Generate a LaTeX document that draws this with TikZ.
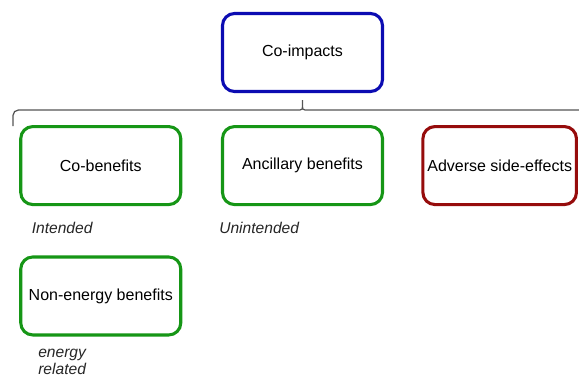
\documentclass[tikz,border=0pt]{standalone}
\usepackage{fontspec}
\setmainfont{Liberation Sans}
\usepackage{tikz}
\usetikzlibrary{positioning,calc}
\definecolor{impblue}{RGB}{12,12,178}
\definecolor{benegreen}{RGB}{22,150,22}
\definecolor{adversered}{RGB}{150,12,12}
\definecolor{bracegray}{RGB}{85,85,85}
\tikzset{
  impbox/.style={draw=impblue, line width=2.3pt, rounded corners=9pt, fill=white,
                 minimum width=120pt, minimum height=58.5pt,
                 font=\fontsize{12}{14}\selectfont, align=center},
  benebox/.style={impbox, draw=benegreen},
  advbox/.style={impbox, draw=adversered, minimum width=115pt},
  tagtext/.style={font=\fontsize{11.7}{12.8}\selectfont\itshape, text=black!85, inner sep=0pt},
  bracel/.style={draw=bracegray, line width=0.95pt, rounded corners=4pt}
}

\begin{document}
\begin{tikzpicture}[x=0.75pt, y=0.75pt, node distance=24pt and 29pt]
  \useasboundingbox (0,0) rectangle (579,376);

  % Top node
  \node[impbox] (coimp) at (302.5,323.5) {Co-impacts};

  % Second row
  \node[benebox, below=24pt of coimp] (anc) {Ancillary benefits};
  \node[benebox, left=29pt of anc]    (cob) {Co-benefits};
  \node[advbox, right=28pt of anc]    (adv) {Adverse side-effects};

  % Third row
  \node[benebox, below=37pt of cob] (neb) {Non-energy benefits};

  % Brace under the top node
  \coordinate (tip) at ($(coimp.south)+(0,-4)$);
  \coordinate (bl) at (13,250);
  \coordinate (br) at (592,250);
  \draw[bracel] (bl) |- ($(tip)+(-8,-13)$)
    .. controls ($(tip)+(0,-13)$) .. (tip)
    .. controls ($(tip)+(0,-13)$) .. ($(tip)+(8,-13)$) -| (br);

  % Labels
  \node[tagtext, anchor=west] (intd) at (31.5,148) {Intended};
  \node[tagtext, anchor=west] (unintd) at (219,148) {Unintended};
  \node[tagtext, align=left, anchor=west] (enrel) at (38,14) {energy\\related};
\end{tikzpicture}
\end{document}
